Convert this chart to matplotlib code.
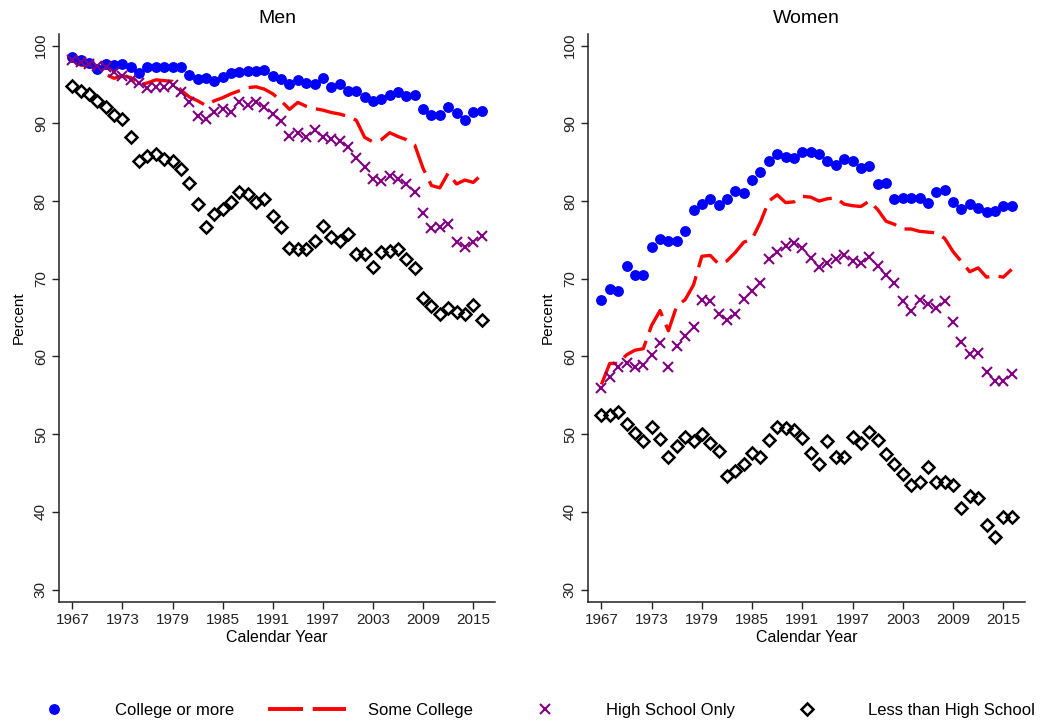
import matplotlib
matplotlib.use("Agg")
import matplotlib.pyplot as plt
from matplotlib.lines import Line2D

plt.rcParams['font.family'] = ['Liberation Sans', 'DejaVu Sans']

years = list(range(1967, 2017))
xticks = [1967, 1973, 1979, 1985, 1991, 1997, 2003, 2009, 2015]
yticks = [30, 40, 50, 60, 70, 80, 90, 100]

men_college = [98.5, 98.1, 97.8, 97.0, 97.6, 97.5, 97.7, 97.3, 96.5, 97.2,
               97.3, 97.3, 97.3, 97.2, 96.2, 95.7, 95.9, 95.5, 96.0, 96.5,
               96.6, 96.7, 96.8, 96.85, 96.05, 95.7, 95.1, 95.6, 95.2, 95.1,
               95.8, 94.7, 95.1, 94.2, 94.2, 93.4, 92.9, 93.1, 93.6, 94.0,
               93.5, 93.6, 91.8, 91.1, 91.1, 92.1, 91.3, 90.4, 91.5, 91.6]
men_some = [98.2, 97.5, 97.4, 96.9, 96.3, 95.8, 96.1, 95.9, 95.0, 95.2,
            95.6, 95.5, 95.4, 94.3, 93.4, 92.9, 92.3, 92.9, 93.3, 93.8,
            94.2, 94.6, 94.7, 94.4, 93.8, 92.9, 91.8, 92.7, 92.2, 91.9,
            91.7, 91.4, 91.2, 90.9, 90.4, 88.2, 87.6, 87.9, 88.8, 88.3,
            87.9, 87.2, 84.2, 82.0, 81.7, 83.6, 82.2, 82.7, 82.4, 83.4]
men_hs = [98.2, 97.9, 97.7, 97.4, 97.2, 96.6, 96.1, 95.6, 95.2, 94.6,
          94.7, 94.7, 94.9, 94.0, 92.7, 90.9, 90.5, 91.4, 91.9, 91.5,
          92.8, 92.4, 92.7, 92.1, 91.25, 90.3, 88.4, 88.8, 88.3, 89.1,
          88.2, 88.0, 87.7, 86.9, 85.6, 84.4, 82.9, 82.6, 83.2, 82.8,
          82.2, 81.2, 78.5, 76.5, 76.6, 77.1, 74.7, 74.1, 74.7, 75.5]
men_lths = [94.8, 94.2, 93.8, 92.9, 92.1, 91.1, 90.6, 88.2, 85.1, 85.8,
            86.0, 85.4, 85.1, 84.1, 82.3, 79.6, 76.7, 78.3, 79.0, 79.9,
            81.2, 80.9, 79.9, 80.2, 78.05, 76.6, 74.0, 73.8, 73.8, 74.9,
            76.8, 75.4, 74.9, 75.7, 73.2, 73.2, 71.5, 73.5, 73.6, 73.8,
            72.6, 71.4, 67.5, 66.5, 65.4, 66.2, 65.7, 65.4, 66.6, 64.7]

women_college = [67.3, 68.7, 68.4, 71.7, 70.5, 70.5, 74.1, 75.1, 74.8, 74.9,
                 76.2, 78.9, 79.6, 80.2, 79.5, 80.2, 81.3, 81.1, 82.7, 83.7,
                 85.1, 86.0, 85.7, 85.55, 86.3, 86.3, 86.0, 85.2, 84.6, 85.4,
                 85.2, 84.2, 84.5, 82.2, 82.3, 80.2, 80.4, 80.4, 80.4, 79.8,
                 81.2, 81.4, 79.9, 79.0, 79.6, 79.1, 78.6, 78.7, 79.3, 79.4]
women_some = [56.4, 59.1, 59.1, 60.2, 60.8, 61.0, 64.0, 65.9, 63.3, 66.5,
              67.3, 69.2, 72.9, 73.0, 71.9, 72.3, 73.4, 74.7, 75.1, 77.3,
              80.0, 80.8, 79.8, 79.9, 80.6, 80.5, 80.0, 80.3, 80.4, 79.6,
              79.4, 79.3, 80.0, 78.9, 77.4, 77.0, 76.4, 76.4, 76.1, 76.0,
              75.9, 75.2, 73.5, 72.2, 70.9, 71.4, 70.2, 70.4, 70.2, 71.2]
women_hs = [56.0, 57.4, 58.7, 59.1, 58.6, 58.9, 60.2, 61.7, 58.6, 61.3,
            62.6, 63.8, 67.3, 67.1, 65.4, 64.7, 65.4, 67.4, 68.4, 69.5,
            72.5, 73.5, 74.2, 74.6, 73.9, 72.7, 71.5, 72.0, 72.5, 73.1,
            72.3, 72.0, 72.8, 71.6, 70.5, 69.5, 67.1, 65.9, 67.3, 66.7,
            66.2, 67.2, 64.4, 61.8, 60.3, 60.4, 58.0, 56.9, 56.9, 57.8]
women_lths = [52.4, 52.5, 52.8, 51.3, 50.1, 49.1, 50.9, 49.4, 47.0, 48.5,
              49.6, 49.1, 50.0, 48.9, 47.8, 44.6, 45.2, 46.1, 47.6, 47.0,
              49.2, 50.9, 50.8, 50.5, 49.5, 47.6, 46.2, 49.1, 47.0, 47.0,
              49.6, 48.8, 50.3, 49.2, 47.4, 46.1, 44.9, 43.5, 43.9, 45.8,
              43.8, 43.8, 43.5, 40.5, 42.0, 41.8, 38.3, 36.7, 39.3, 39.4]

labels = ["College or more", "Some College", "High School Only", "Less than High School"]
panels = [("Men", men_college, men_some, men_hs, men_lths),
          ("Women", women_college, women_some, women_hs, women_lths)]

BLUE, RED, PURPLE, BLACK = "#0000FF", "#FF0000", "#800080", "#000000"
DASH = (9, 2.8)

fig = plt.figure(figsize=(10.4, 7.25), dpi=100)
positions = [[0.0567, 0.1697, 0.4192, 0.7834], [0.5654, 0.1697, 0.4202, 0.7834]]

for pos, (title, col, some, hs, lths) in zip(positions, panels):
    ax = fig.add_axes(pos)
    ax.plot(years, some, color=RED, lw=2.4, dashes=DASH, zorder=2)
    ax.plot(years, col, linestyle="none", marker="o", ms=6.8, color=BLUE, zorder=3)
    ax.plot(years, hs, linestyle="none", marker="x", ms=6.6, mew=1.5, color=PURPLE, zorder=4)
    ax.plot(years, lths, linestyle="none", marker="D", ms=6.1, mfc="none", mec=BLACK, mew=1.8, zorder=5)
    ax.set_xlim(1965.4, 2017.6)
    ax.set_ylim(28.4, 101.5)
    ax.set_xticks(xticks)
    ax.set_yticks(yticks)
    ax.set_yticklabels([str(v) for v in yticks], rotation=90, va="center")
    for s in ["top", "right"]:
        ax.spines[s].set_visible(False)
    for s in ["left", "bottom"]:
        ax.spines[s].set_linewidth(1.1)
        ax.spines[s].set_color("#222222")
    ax.tick_params(direction="out", length=5, width=1.0, labelsize=11, colors="#222222", pad=3)
    ax.set_title(title, fontsize=14, pad=8)
    ax.set_xlabel("Calendar Year", fontsize=11.5, labelpad=2)
    ax.set_ylabel("Percent", fontsize=11, labelpad=6)

handles = [
    Line2D([], [], linestyle="none", marker="o", ms=6.8, color=BLUE),
    Line2D([], [], color=RED, lw=2.8, dashes=(9, 2.5)),
    Line2D([], [], linestyle="none", marker="x", ms=6.6, mew=1.5, color=PURPLE),
    Line2D([], [], linestyle="none", marker="D", ms=6.1, mfc="none", mec=BLACK, mew=1.8),
]
fig.legend(handles, labels, loc="center", bbox_to_anchor=(0.505, 0.02), ncol=4,
           frameon=False, fontsize=12, handlelength=4.7, handletextpad=1.3,
           columnspacing=2.0)

fig.savefig("out.png", dpi=100, facecolor="white")
